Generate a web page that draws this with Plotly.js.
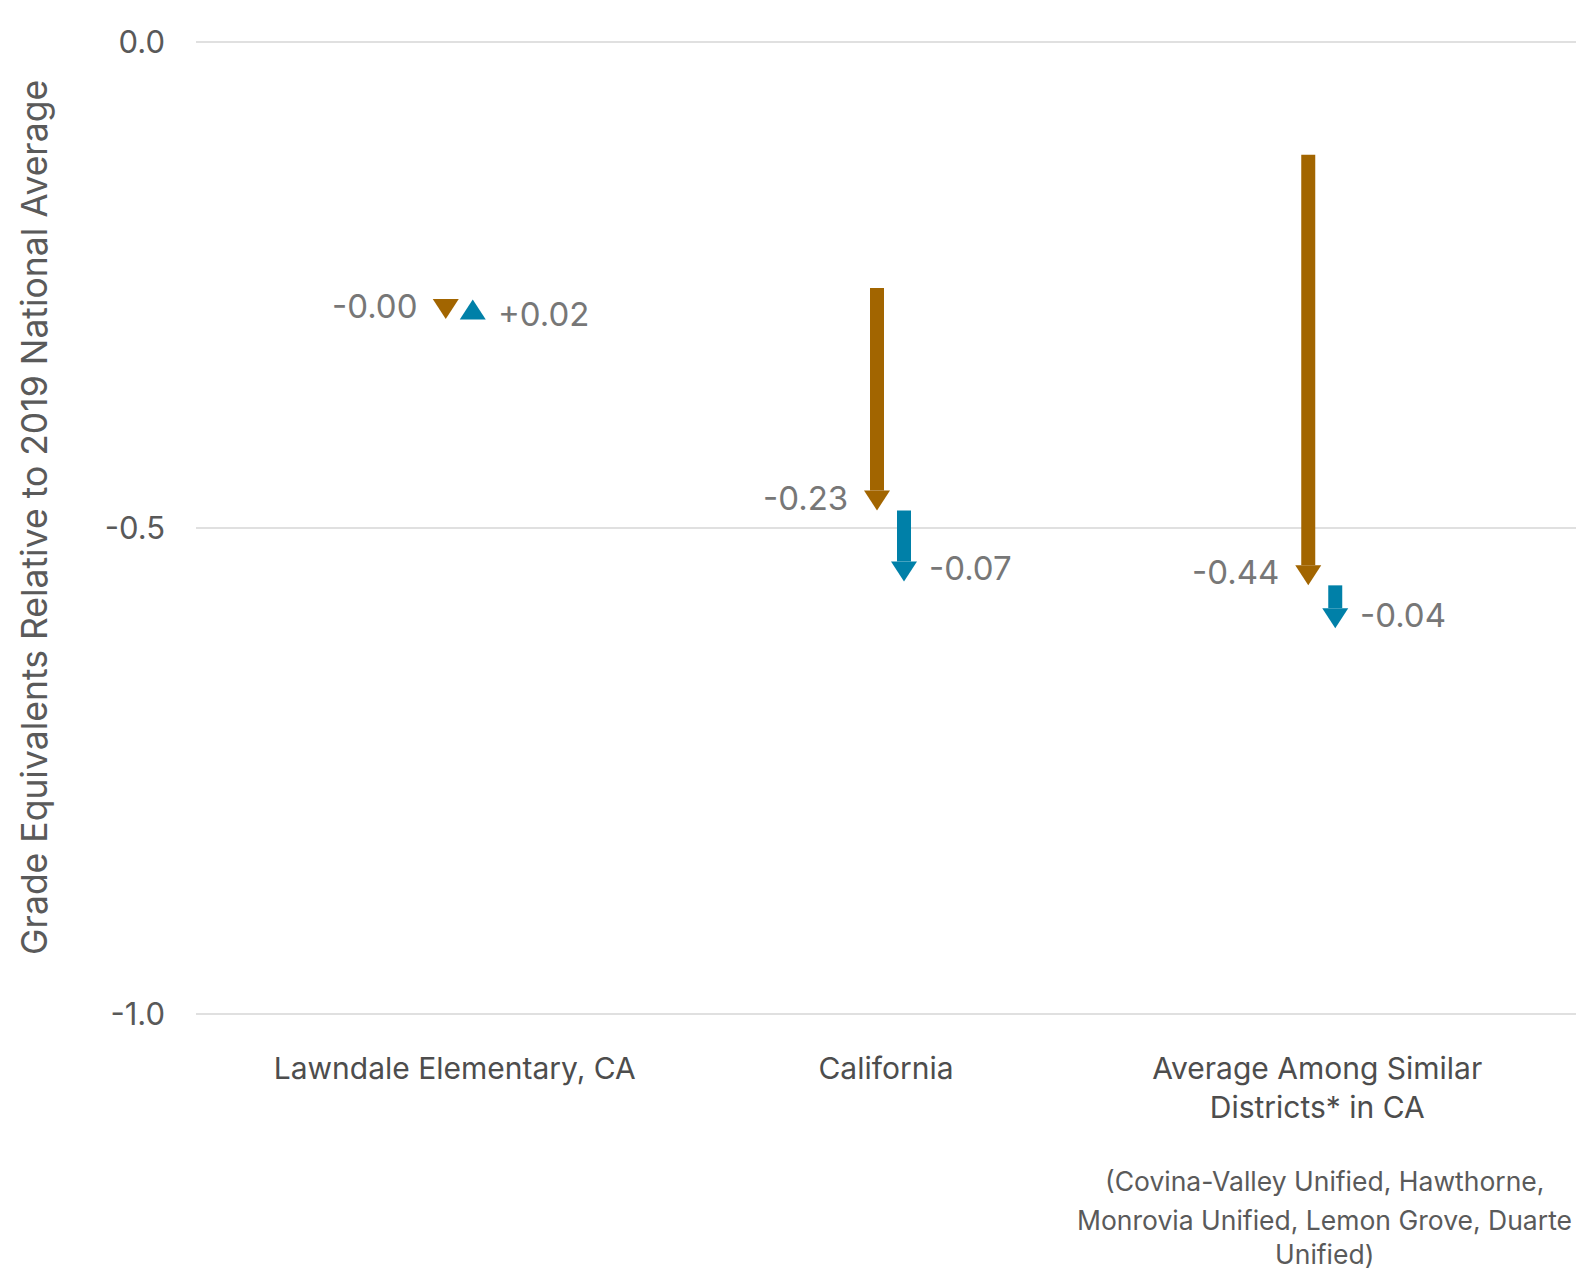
<!DOCTYPE html>
<html>
<head>
<meta charset="utf-8">
<script src="https://cdn.plot.ly/plotly-3.0.1.min.js"></script>
<style>
  html, body { margin: 0; padding: 0; background: #ffffff; overflow: hidden; }
  #chart { width: 1576px; height: 1271px; }
</style>
</head>
<body>
<div id="chart"></div>
<script>
// ---- data ----
const categories = ['Lawndale Elementary, CA', 'California', 'Average Among Similar<br>Districts* in CA'];
const score2019 = [-0.282, -0.253, -0.116];
const score2022 = [-0.285, -0.482, -0.559];
const score2023 = [-0.265, -0.555, -0.603];
const yTickVals = [0, -0.5, -1];
const yTickText = ['0.0', '-0.5', '-1.0'];
const yTitle = 'Grade Equivalents Relative to 2019 National Average';
const noteLines = ['(Covina-Valley Unified, Hawthorne,', 'Monrovia Unified, Lemon Grove, Duarte', 'Unified)'];

// ---- style ----
const FONT = 'Inter, "Noto Sans", sans-serif';
const BROWN = '#A26500';
const BLUE = '#0080A8';
const HEAD_H = 20, HEAD_HALF = 13, SHAFT_HALF = 7;

const series = [
  { from: score2019, to: score2022, color: BROWN, dx: -9, labelSide: 'left' },
  { from: score2022, to: score2023, color: BLUE, dx: 18, labelSide: 'right' }
];

function fmt(d) {
  const s = d.toFixed(2);
  return d >= 0 ? '+' + s : s;
}

const xIdx = categories.map((c, i) => i);

const annotations = [];
// value labels
series.forEach(s => {
  xIdx.forEach(i => {
    const d = s.to[i] - s.from[i];
    const down = d <= 0;
    annotations.push({
      x: i, y: s.to[i], xref: 'x', yref: 'y',
      text: fmt(d), showarrow: false,
      xanchor: s.labelSide === 'left' ? 'right' : 'left',
      yanchor: 'middle',
      xshift: s.labelSide === 'left' ? s.dx - 28 : s.dx + 24,
      yshift: down ? 13 : -14,
      borderpad: 0,
      font: { family: FONT, size: 33, color: '#777777' }
    });
  });
});
// y axis title
annotations.push({
  xref: 'paper', yref: 'paper', x: -0.1170, y: 0.5109,
  xanchor: 'center', yanchor: 'middle', textangle: -90,
  text: yTitle, showarrow: false,
  font: { family: FONT, size: 35.5, color: '#5a5a5a' }
});
// note under the third category
noteLines.forEach((line, k) => {
  annotations.push({
    xref: 'x', yref: 'paper', x: 2, y: 0, xshift: 7,
    yshift: [-165, -204, -238][k],
    xanchor: 'center', yanchor: 'middle',
    text: line, showarrow: false,
    font: { family: FONT, size: 26.5, color: '#5a5a5a' }
  });
});

const data = [{
  type: 'scatter', mode: 'markers', x: xIdx, y: score2022,
  marker: { opacity: 0 }, hoverinfo: 'skip', showlegend: false
}];

const layout = {
  width: 1576, height: 1271,
  margin: { l: 196, r: 0, t: 40, b: 255 },
  paper_bgcolor: '#ffffff', plot_bgcolor: '#ffffff',
  showlegend: false,
  xaxis: {
    range: [-0.6, 2.6],
    tickvals: xIdx, ticktext: categories,
    showgrid: false, zeroline: false, showline: false, ticks: '',
    ticklabelstandoff: 32,
    tickfont: { family: FONT, size: 30, color: '#4d4d4d' }
  },
  yaxis: {
    range: [-1.002, 0.002],
    tickvals: yTickVals, ticktext: yTickText,
    showgrid: true, gridcolor: '#e0e0e0', gridwidth: 2,
    zeroline: false, showline: false, ticks: '',
    ticklabelstandoff: 30,
    tickfont: { family: FONT, size: 31, color: '#595959' }
  },
  annotations: annotations
};

const gd = document.getElementById('chart');
Plotly.newPlot(gd, data, layout, { staticPlot: true, displayModeBar: false }).then(() => {
  const ya = gd._fullLayout.yaxis;
  const shapes = [];
  series.forEach(s => {
    xIdx.forEach(i => {
      const startPx = ya.l2p(s.from[i]);
      const endPx = ya.l2p(s.to[i]);
      const dir = endPx >= startPx ? 1 : -1; // 1: pointing down on screen
      const len = Math.abs(endPx - startPx);
      if (len > HEAD_H) {
        const basePx = endPx - dir * HEAD_H;
        shapes.push({
          type: 'rect', xref: 'x', yref: 'y', xsizemode: 'pixel', xanchor: i,
          x0: s.dx - SHAFT_HALF, x1: s.dx + SHAFT_HALF,
          y0: s.from[i], y1: ya.p2l(basePx),
          fillcolor: s.color, line: { width: 0 }, layer: 'above'
        });
      }
      const h = dir === 1 ? HEAD_H : -HEAD_H;
      shapes.push({
        type: 'path', xref: 'x', yref: 'y',
        xsizemode: 'pixel', ysizemode: 'pixel', xanchor: i, yanchor: s.to[i],
        path: 'M' + (s.dx - HEAD_HALF) + ',' + h + ' L' + (s.dx + HEAD_HALF) + ',' + h + ' L' + s.dx + ',0 Z',
        fillcolor: s.color, line: { width: 0 }, layer: 'above'
      });
    });
  });
  return Plotly.relayout(gd, { shapes: shapes });
});
</script>
</body>
</html>
